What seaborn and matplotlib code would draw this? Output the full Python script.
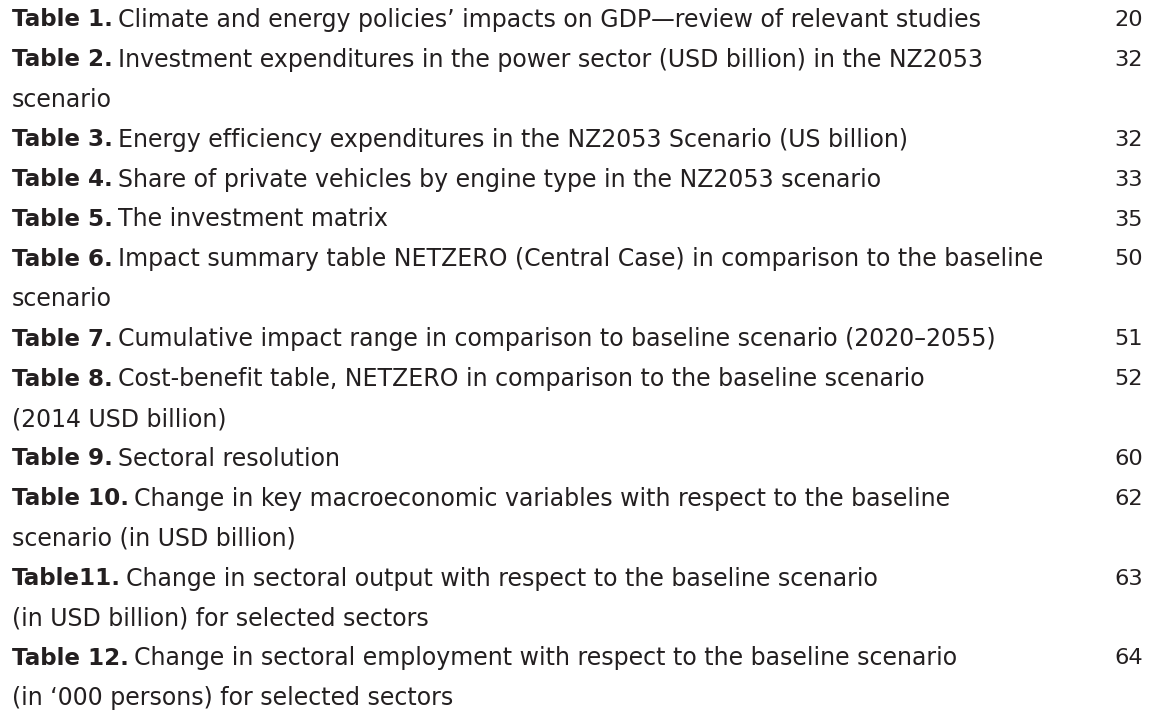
import matplotlib
matplotlib.use('Agg')
import matplotlib.pyplot as plt
import seaborn as sns
import pandas as pd

# list of tables: label, title lines (as wrapped in the original), page
table_labels = ['Table 1.', 'Table 2.', 'Table 3.', 'Table 4.', 'Table 5.', 'Table 6.',
                'Table 7.', 'Table 8.', 'Table 9.', 'Table 10.', 'Table11.', 'Table 12.']
table_titles = [
    ['Climate and energy policies\u2019 impacts on GDP\u2014review of relevant studies'],
    ['Investment expenditures in the power sector (USD billion) in the NZ2053', 'scenario'],
    ['Energy efficiency expenditures in the NZ2053 Scenario (US billion)'],
    ['Share of private vehicles by engine type in the NZ2053 scenario'],
    ['The investment matrix'],
    ['Impact summary table NETZERO (Central Case) in comparison to the baseline', 'scenario'],
    ['Cumulative impact range in comparison to baseline scenario (2020\u20132055)'],
    ['Cost-benefit table, NETZERO in comparison to the baseline scenario', '(2014 USD billion)'],
    ['Sectoral resolution'],
    ['Change in key macroeconomic variables with respect to the baseline', 'scenario (in USD billion)'],
    ['Change in sectoral output with respect to the baseline scenario', '(in USD billion) for selected sectors'],
    ['Change in sectoral employment with respect to the baseline scenario', '(in \u2018000 persons) for selected sectors'],
]
table_pages = [20, 32, 32, 33, 35, 50, 51, 52, 60, 62, 63, 64]

df = pd.DataFrame({'label': table_labels, 'title': table_titles, 'page': table_pages})

sns.set_theme(style='white')
plt.rcParams['font.family'] = ['DejaVu Sans']

W, H = 1155, 718
fig = plt.figure(figsize=(W / 100, H / 100), dpi=100)
ax = fig.add_axes([0, 0, 1, 1])
ax.set_xlim(0, W)
ax.set_ylim(H, 0)
ax.axis('off')

col = '#231f20'
fs_bold, fs_text, fs_page = 16.6, 17.0, 16.2
top, step = 20, 39.9
x_left, x_page = 12, 1143

line = 0
for _, row in df.iterrows():
    y = top + step * line
    lab = ax.text(x_left, y, row['label'], fontsize=fs_bold, fontweight='bold',
                  color=col, va='center', ha='left')
    ax.annotate(row['title'][0], xy=(1, 0.5), xycoords=lab, xytext=(3.5, 0),
                textcoords='offset points', fontsize=fs_text,
                color=col, va='center', ha='left')
    ax.text(x_page, y, str(row['page']), fontsize=fs_page, color=col, va='center', ha='right')
    for extra in row['title'][1:]:
        line += 1
        ax.text(x_left, top + step * line, extra, fontsize=fs_text, color=col,
                va='center', ha='left')
    line += 1

fig.savefig('out.png', dpi=100, facecolor='white')
